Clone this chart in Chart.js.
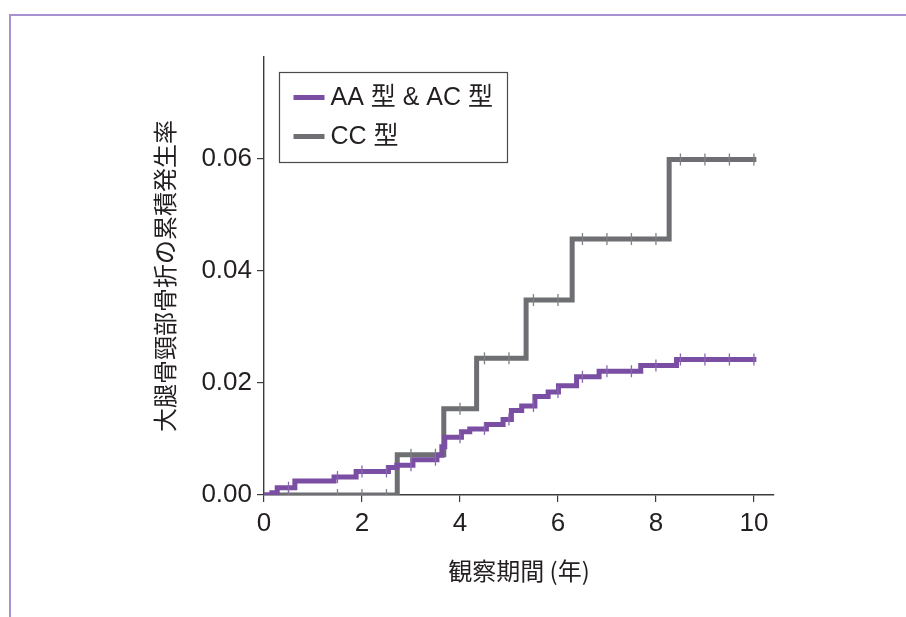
<!DOCTYPE html>
<html><head><meta charset="utf-8">
<script src="https://cdn.jsdelivr.net/npm/chart.js@4/dist/chart.umd.min.js"></script>
<style>
html,body{margin:0;padding:0;background:#fff;}
#wrap{position:relative;width:906px;height:617px;overflow:hidden;}
#frame{position:absolute;left:9px;top:14px;right:-5px;bottom:-5px;border-top:2px solid #a990d2;border-left:2px solid #a990d2;}
canvas{position:absolute;left:0;top:0;}
</style></head><body>
<div id="wrap"><div id="frame"></div><canvas id="c" width="906" height="617"></canvas></div>
<script>
// ---- data ----
const seriesLabels = ['AA 型 & AC 型', 'CC 型'];
const aaTimes  = [0, 0.16, 0.27, 0.63, 1.43, 1.88, 2.54, 2.71, 3.04, 3.53, 3.63, 3.69, 4.03, 4.20, 4.54, 4.88, 5.05, 5.26, 5.53, 5.80, 6.01, 6.38, 6.84, 7.69, 8.42, 10.05];
const aaValues = [0, 0.0004, 0.0013, 0.0025, 0.0032, 0.0042, 0.0049, 0.0053, 0.0063, 0.0071, 0.0086, 0.0103, 0.0113, 0.0118, 0.0126, 0.0135, 0.0151, 0.0159, 0.0176, 0.0184, 0.0195, 0.0211, 0.0221, 0.0231, 0.0242, 0.0242];
const ccTimes  = [0, 2.72, 3.67, 4.34, 5.35, 6.29, 8.27, 10.05];
const ccValues = [0, 0.0072, 0.0154, 0.0244, 0.0348, 0.0457, 0.0599, 0.0599];
const aaCensor = [0.5, 1.5, 2, 2.5, 3, 3.5, 4, 4.5, 5, 5.5, 6, 6.5, 7, 7.5, 8, 8.5, 9, 9.5, 10];
const ccCensor = [0.5, 1.5, 2, 2.5, 3, 3.5, 4, 4.5, 5, 5.5, 6, 6.5, 7, 7.5, 8, 8.5, 9, 9.5, 10];
const xTicks = [0, 2, 4, 6, 8, 10];
const yTicks = [0, 0.02, 0.04, 0.06];
const xTitle = '観察期間 (年)';
const yTitle = '大腿骨頸部骨折の累積発生率';

// ---- helpers ----
const AA_COLOR = '#7a4fa3';
const CC_COLOR = '#6e6f72';
const TXT = '#231f20';
const AXIS = '#3c3c3c';
const LAT = '"Liberation Sans", Arial, "Noto Sans CJK JP", sans-serif';
const CJK = '"Noto Sans CJK JP", sans-serif';

function pts(ts, vs){ return ts.map((t,i)=>({x:t, y:vs[i]})); }
function stepAt(ts, vs, t){ let v = vs[0]; for (let i=0;i<ts.length;i++){ if (ts[i] <= t) v = vs[i]; } return v; }
function censorPts(cs, ts, vs){ return cs.map(t=>({x:t, y:stepAt(ts, vs, t)})); }

const legendPlugin = {
  id: 'kmLegend',
  afterDraw(chart){
    const ctx = chart.ctx, a = chart.chartArea;
    const x0 = a.left + 15.5, y0 = a.top + 15.5, w = 228, h = 90;
    ctx.save();
    ctx.strokeStyle = '#4a4a4a'; ctx.lineWidth = 1.2;
    ctx.fillStyle = '#fff';
    ctx.fillRect(x0, y0, w, h);
    ctx.strokeRect(x0, y0, w, h);
    [0, 1].forEach((di, k) => {
      const ds = chart.data.datasets[di];
      const yy = y0 + 25 + k * 39;
      ctx.strokeStyle = ds.borderColor; ctx.lineWidth = 5; ctx.lineCap = 'butt';
      ctx.beginPath(); ctx.moveTo(x0 + 14, yy); ctx.lineTo(x0 + 45, yy); ctx.stroke();
      ctx.fillStyle = TXT; ctx.font = '25px ' + LAT; ctx.textBaseline = 'middle'; ctx.textAlign = 'left';
      ctx.fillText(ds.label, x0 + 51, yy + 1);
    });
    ctx.restore();
  }
};

new Chart(document.getElementById('c'), {
  type: 'line',
  data: {
    datasets: [
      { label: seriesLabels[0], data: pts(aaTimes, aaValues), borderColor: AA_COLOR, backgroundColor: AA_COLOR, borderWidth: 5, stepped: 'before', pointRadius: 0, borderJoinStyle: 'miter', borderCapStyle: 'butt', fill: false, order: 1 },
      { label: seriesLabels[1], data: pts(ccTimes, ccValues), borderColor: CC_COLOR, backgroundColor: CC_COLOR, borderWidth: 5, stepped: 'before', pointRadius: 0, borderJoinStyle: 'miter', borderCapStyle: 'butt', fill: false, order: 2 },
      { label: 'aa-censor', type: 'scatter', data: censorPts(aaCensor, aaTimes, aaValues), showLine: false, pointStyle: 'line', rotation: 90, pointRadius: 6, borderColor: '#8a66b0', borderWidth: 1.3, order: 0 },
      { label: 'cc-censor', type: 'scatter', data: censorPts(ccCensor, ccTimes, ccValues), showLine: false, pointStyle: 'line', rotation: 90, pointRadius: 6, borderColor: '#808184', borderWidth: 1.3, order: 0 }
    ]
  },
  options: {
    responsive: false,
    animation: false,
    devicePixelRatio: 1,
    layout: { padding: { left: 0, top: 57, right: 132, bottom: 0 } },
    plugins: { legend: { display: false }, tooltip: { enabled: false } },
    scales: {
      x: {
        type: 'linear', min: 0, max: 10.41,
        afterBuildTicks: s => { s.ticks = xTicks.map(v => ({ value: v })); },
        afterFit: s => { s.height = 122; },
        ticks: { font: { family: LAT, size: 26 }, color: TXT, padding: 6, maxRotation: 0, callback: v => String(v) },
        grid: { display: true, drawOnChartArea: false, drawTicks: true, tickLength: 7, color: AXIS, lineWidth: 1.2 },
        border: { display: true, color: AXIS, width: 1.4 },
        title: { display: true, text: xTitle, color: TXT, font: { family: CJK, size: 24 }, padding: { top: 0, bottom: 32 } }
      },
      y: {
        type: 'linear', min: 0, max: 0.0782,
        afterBuildTicks: s => { s.ticks = yTicks.map(v => ({ value: v })); },
        afterFit: s => { s.width = 264; },
        ticks: { font: { family: LAT, size: 26 }, color: TXT, padding: 5, callback: v => Number(v).toFixed(2) },
        grid: { display: true, drawOnChartArea: false, drawTicks: true, tickLength: 7, color: AXIS, lineWidth: 1.2 },
        border: { display: true, color: AXIS, width: 1.4 },
        title: { display: true, text: yTitle, color: TXT, font: { family: CJK, size: 24 }, padding: { top: 150, bottom: 0 } }
      }
    }
  },
  plugins: [legendPlugin]
});
</script>
</body></html>
